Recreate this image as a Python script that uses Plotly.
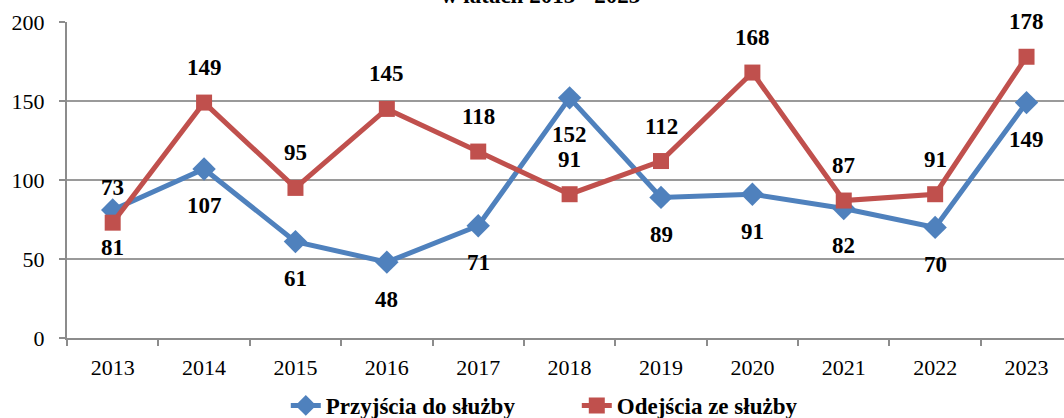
import plotly.graph_objects as go

years = ["2013", "2014", "2015", "2016", "2017", "2018", "2019", "2020", "2021", "2022", "2023"]
przyjscia = [81, 107, 61, 48, 71, 152, 89, 91, 82, 70, 149]
odejscia = [73, 149, 95, 145, 118, 91, 112, 168, 87, 91, 178]

BLUE = "#4F81BD"
RED = "#C0504D"
SERIF = "Liberation Serif, Times New Roman, DejaVu Serif, serif"

fig = go.Figure()
fig.add_trace(go.Scatter(
    x=years, y=przyjscia, name="<b>Przyjścia do służby</b>", mode="lines+markers",
    line=dict(color=BLUE, width=5),
    marker=dict(symbol="diamond", size=18, color=BLUE),
))
fig.add_trace(go.Scatter(
    x=years, y=odejscia, name="<b>Odejścia ze służby</b>", mode="lines+markers",
    line=dict(color=RED, width=5),
    marker=dict(symbol="square", size=16, color=RED),
))

annotations = []
for i, v in enumerate(przyjscia):
    annotations.append(dict(x=i, y=v, xref="x", yref="y", text=f"<b>{v}</b>", showarrow=False,
                            yshift=-37, font=dict(family=SERIF, size=23, color="black")))
for i, v in enumerate(odejscia):
    annotations.append(dict(x=i, y=v, xref="x", yref="y", text=f"<b>{v}</b>", showarrow=False,
                            yshift=35, font=dict(family=SERIF, size=23, color="black")))
annotations.append(dict(x=0.475, y=1, xref="paper", yref="paper", yanchor="bottom", yshift=12,
                        text="<b>w latach 2013 - 2023</b>", showarrow=False,
                        font=dict(family=SERIF, size=23, color="black")))

fig.update_layout(
    width=1064, height=418,
    margin=dict(l=67, r=0, t=22, b=80, autoexpand=False),
    paper_bgcolor="white", plot_bgcolor="white",
    font=dict(family=SERIF, size=22, color="black"),
    showlegend=True,
    legend=dict(orientation="h", xref="container", x=0.2686, xanchor="left",
                yref="container", y=0.03, yanchor="middle",
                font=dict(family=SERIF, size=23, color="black"),
                itemwidth=30, entrywidth=246, entrywidthmode="pixels",
                bgcolor="rgba(0,0,0,0)"),
    annotations=annotations,
    xaxis=dict(type="category", range=[-0.5, 10.41], tickson="boundaries", ticks="outside",
               ticklen=6, tickcolor="#8c8c8c", tickwidth=2, showline=True, linecolor="#8c8c8c",
               linewidth=2, showgrid=False, tickfont=dict(family=SERIF, size=22),
               ticklabelstandoff=9, automargin=False),
    yaxis=dict(range=[0, 200], dtick=50, showgrid=True, gridcolor="#9a9a9a", gridwidth=1.5,
               showline=True, linecolor="#8c8c8c", linewidth=2, ticks="outside", ticklen=6,
               tickcolor="#8c8c8c", tickwidth=2, zeroline=False,
               tickfont=dict(family=SERIF, size=22), ticklabelstandoff=10, automargin=False),
)

fig.write_html("out.html")
